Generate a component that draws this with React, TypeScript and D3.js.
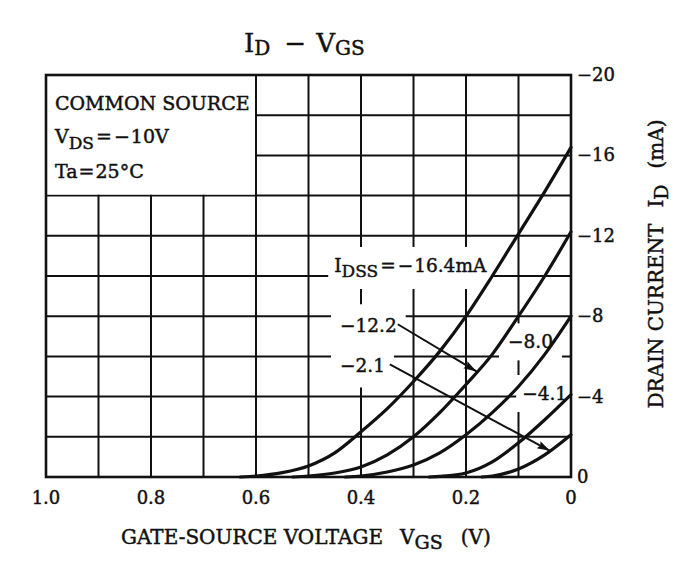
import { useEffect, useRef } from 'react';
import * as d3 from 'd3';

// axis labels
const vgsTickLabels = [1.0, 0.8, 0.6, 0.4, 0.2, 0];
const idTickLabels = [0, -4, -8, -12, -16, -20];

// transfer curves, [VGS (V), ID (mA)], read point by point
const idss164: [number, number][] = [
  [0.63, 0], [0.6, -0.05], [0.55, -0.22], [0.5, -0.55], [0.45, -1.2], [0.4, -2.25], [0.35, -3.4],
  [0.3, -4.75], [0.25, -6.25], [0.2, -8.0], [0.15, -10.0], [0.1, -12.1], [0.05, -14.2], [0, -16.4],
];
const idss122: [number, number][] = [
  [0.53, 0], [0.5, -0.05], [0.45, -0.2], [0.4, -0.5], [0.35, -1.1], [0.3, -2.0], [0.25, -3.2],
  [0.2, -4.6], [0.15, -6.1], [0.1, -8.0], [0.05, -10.0], [0, -12.2],
];
const idss80: [number, number][] = [
  [0.43, 0], [0.4, -0.05], [0.35, -0.25], [0.3, -0.6], [0.25, -1.2], [0.2, -2.1], [0.15, -3.2],
  [0.1, -4.5], [0.05, -6.1], [0, -8.0],
];
const idss41: [number, number][] = [
  [0.27, 0], [0.25, -0.03], [0.2, -0.2], [0.15, -0.75], [0.1, -1.7], [0.05, -2.85], [0, -4.1],
];
const idss21: [number, number][] = [
  [0.17, 0], [0.15, -0.05], [0.1, -0.4], [0.05, -1.1], [0, -2.1],
];
const curves = [idss164, idss122, idss80, idss41, idss21];

const W = 688;
const H = 576;
const FONT = '"DejaVu Serif", "Liberation Serif", serif';
const INK = '#111';

type Part = { t: string; sub?: boolean; dx?: number };

function rich(
  sel: d3.Selection<SVGTextElement, unknown, null, undefined>,
  parts: Part[],
  size: number,
  subSize = size * 0.9,
  shift = 5,
) {
  let down = false;
  parts.forEach((p) => {
    const ts = sel.append('tspan').text(p.t);
    let dy = 0;
    if (p.sub && !down) { dy = shift; down = true; }
    else if (!p.sub && down) { dy = -shift; down = false; }
    if (dy) ts.attr('dy', dy);
    if (p.dx) ts.attr('dx', p.dx);
    ts.attr('font-size', p.sub ? subSize : size);
  });
  return sel;
}

export default function App() {
  const svgRef = useRef<SVGSVGElement>(null);

  useEffect(() => {
    if (!svgRef.current) return;
    const svg = d3.select(svgRef.current);
    svg.selectAll('*').remove();

    const x = d3.scaleLinear().domain([1, 0]).range([46, 571]);
    const y = d3.scaleLinear().domain([0, -20]).range([477, 75]);
    const [x0, x1] = x.range();
    const [y0, y1] = y.range();

    svg.append('rect').attr('width', W).attr('height', H).attr('fill', '#fff');

    const defs = svg.append('defs');
    defs
      .append('marker')
      .attr('id', 'arrow')
      .attr('markerUnits', 'userSpaceOnUse')
      .attr('markerWidth', 14)
      .attr('markerHeight', 10)
      .attr('refX', 13)
      .attr('refY', 4)
      .attr('orient', 'auto')
      .append('path')
      .attr('d', 'M0,0 L13,4 L0,8 L2,4 Z')
      .attr('fill', INK);

    const gGrid = svg.append('g');
    const gMask = svg.append('g');
    const gFrame = svg.append('g');
    const gCurves = svg.append('g');
    const gText = svg.append('g')
      .attr('font-family', FONT)
      .attr('fill', INK)
      .attr('stroke', INK)
      .attr('stroke-width', 0.45);

    // grid
    x.ticks(10).forEach((v) => {
      gGrid.append('line')
        .attr('x1', x(v)).attr('x2', x(v)).attr('y1', y1).attr('y2', y0)
        .attr('stroke', INK).attr('stroke-width', 2);
    });
    y.ticks(10).forEach((v) => {
      gGrid.append('line')
        .attr('x1', x0).attr('x2', x1).attr('y1', y(v)).attr('y2', y(v))
        .attr('stroke', INK).attr('stroke-width', 2);
    });

    // condition box, top-left
    gMask.append('rect')
      .attr('x', x(1)).attr('y', y(-20))
      .attr('width', x(0.6) - x(1) - 1).attr('height', y(-14) - y(-20) - 1)
      .attr('fill', '#fff');

    gFrame.append('rect')
      .attr('x', x0).attr('y', y1).attr('width', x1 - x0).attr('height', y0 - y1)
      .attr('fill', 'none').attr('stroke', INK).attr('stroke-width', 2.6);

    // curves
    const line = d3.line<[number, number]>()
      .x((d) => x(d[0]))
      .y((d) => y(d[1]))
      .curve(d3.curveMonotoneX);
    curves.forEach((c) => {
      gCurves.append('path')
        .attr('d', line(c))
        .attr('fill', 'none').attr('stroke', INK).attr('stroke-width', 3.2)
        .attr('stroke-linecap', 'round');
    });

    // title
    rich(gText.append('text').attr('x', 244).attr('y', 52),
      [{ t: 'I' }, { t: 'D', sub: true }, { t: '−', dx: 14 }, { t: 'V', dx: 10 }, { t: 'GS', sub: true }],
      26, 20, 3);

    // conditions
    gText.append('text').attr('x', 55).attr('y', 110).attr('font-size', 19).text('COMMON SOURCE');
    rich(gText.append('text').attr('x', 55).attr('y', 143),
      [{ t: 'V' }, { t: 'DS', sub: true }, { t: '=', dx: 2 }, { t: '−', dx: 2 }, { t: '10V', dx: 1 }], 19, 17, 6);
    rich(gText.append('text').attr('x', 55).attr('y', 178),
      [{ t: 'Ta' }, { t: '=', dx: 1 }, { t: '25°C', dx: 1 }], 19);

    // curve labels, each on a white patch
    const labels: { parts: Part[]; v: number; i: number; px: number; py: number }[] = [
      { parts: [{ t: 'I' }, { t: 'DSS', sub: true }, { t: '=', dx: 2 }, { t: '−', dx: 2 }, { t: '16.4mA', dx: 1 }], v: 0.451, i: -10.2, px: 6, py: 8 },
      { parts: [{ t: '−12.2' }], v: 0.44, i: -7.2, px: 9, py: 11 },
      { parts: [{ t: '−2.1' }], v: 0.44, i: -5.2, px: 9, py: 11 },
      { parts: [{ t: '−8.0' }], v: 0.12, i: -6.4, px: 9, py: 8 },
      { parts: [{ t: '−4.1' }], v: 0.093, i: -3.83, px: 6, py: 8 },
    ];
    labels.forEach((l) => {
      const t = rich(gText.append('text').attr('x', x(l.v)).attr('y', y(l.i)), l.parts, 18.5, 17, 5);
      const b = (t.node() as SVGTextElement).getBBox();
      gMask.append('rect')
        .attr('x', b.x - l.px).attr('y', b.y - l.py)
        .attr('width', b.width + 2 * l.px).attr('height', b.height + 2 * l.py)
        .attr('fill', '#fff');
    });

    // leaders
    const leaders: [[number, number], [number, number]][] = [
      [[0.33, -7.6], [0.18, -5.25]],
      [[0.345, -5.6], [0.04, -1.3]],
    ];
    leaders.forEach(([a, b]) => {
      gText.append('line')
        .attr('x1', x(a[0])).attr('y1', y(a[1])).attr('x2', x(b[0])).attr('y2', y(b[1]))
        .attr('stroke', INK).attr('stroke-width', 2)
        .attr('marker-end', 'url(#arrow)');
    });

    // bottom tick labels
    vgsTickLabels.forEach((v) => {
      gText.append('text')
        .attr('x', x(v)).attr('y', 504).attr('text-anchor', 'middle').attr('font-size', 18)
        .text(v === 0 ? '0' : v.toFixed(1));
    });

    // right tick labels
    idTickLabels.forEach((v) => {
      gText.append('text')
        .attr('x', x1 + 6).attr('y', y(v) + 6).attr('font-size', 18)
        .text(v === 0 ? '0' : `−${Math.abs(v)}`);
    });

    // axis titles
    rich(gText.append('text').attr('x', 121).attr('y', 544),
      [{ t: 'GATE-SOURCE VOLTAGE' }, { t: 'V', dx: 17 }, { t: 'GS', sub: true }, { t: '(V)', dx: 18 }], 20, 19, 5);

    rich(gText.append('text')
      .attr('transform', `translate(663, 264) rotate(-90)`)
      .attr('text-anchor', 'middle'),
      [{ t: 'DRAIN CURRENT' }, { t: 'I', dx: 16 }, { t: 'D', sub: true }, { t: '(mA)', dx: 16 }], 20, 19, 5);
  }, []);

  return (
    <svg
      ref={svgRef}
      width={W}
      height={H}
      style={{ position: 'absolute', left: 0, top: 0, display: 'block' }}
    />
  );
}
